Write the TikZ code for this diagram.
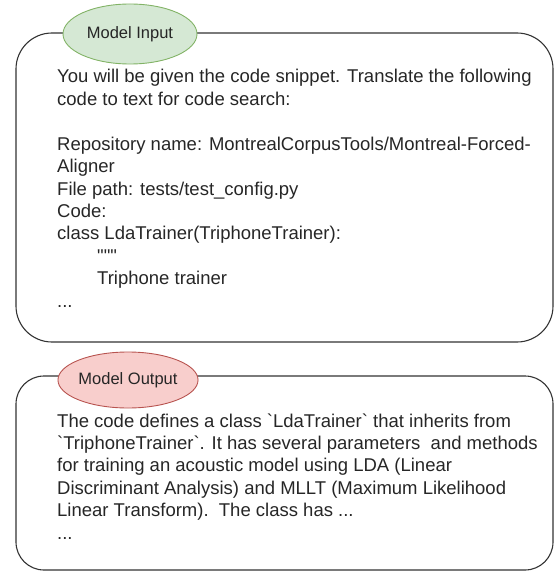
\documentclass[tikz,border=0pt]{standalone}
\usepackage{fontspec}
\setmainfont{Liberation Sans}[Ligatures=TeXOff]
\usetikzlibrary{shapes.geometric}
\definecolor{txt}{HTML}{262626}
\definecolor{edge}{HTML}{333333}
\definecolor{gfill}{HTML}{D5E8D4}
\definecolor{gline}{HTML}{82B366}
\definecolor{rfill}{HTML}{F8CECC}
\definecolor{rline}{HTML}{B85450}
\tikzset{
  panel/.style={draw=edge, line width=1.1pt},
  tag/.style={ellipse, line width=0.9pt, inner sep=0pt, minimum width=134pt, minimum height=60pt, text=txt, font=\fontsize{16.5}{19}\selectfont},
  ln/.style={anchor=base west, inner sep=0pt, text=txt, font=\fontsize{18.5}{22.4}\selectfont},
}
\begin{document}
\begin{tikzpicture}[x=1pt,y=-1pt]
\useasboundingbox (0,0) rectangle (554,572);
% panels
\draw[panel, rounded corners=36pt] (16,33) rectangle (553,342);
\draw[panel, rounded corners=28pt] (16,376) rectangle (553,570);
% tags
\node[tag, draw=gline, fill=gfill] (tin) at (130,34) {Model Input};
\node[tag, draw=rline, fill=rfill, minimum width=130pt, minimum height=56pt] (tout) at (128,380) {Model Output};
% input text
\node[ln] (i1) at (57,83) {You will be given the code snippet. Translate the following};
\node[ln] (i2) at (57,105.4) {code to text for code search:};
\node[ln] (i4) at (57,150.2) {Repository name: MontrealCorpusTools/Montreal-Forced-};
\node[ln] (i5) at (57,172.6) {Aligner};
\node[ln] (i6) at (57,195) {File path: tests/test\_config.py};
\node[ln] (i7) at (57,217.4) {Code:};
\node[ln] (i8) at (57,239.8) {class LdaTrainer(TriphoneTrainer):};
\node[ln] (i9) at (97,262.2) {"""};
\node[ln] (i10) at (97,284.6) {Triphone trainer};
\node[ln] (i11) at (57,307) {...};
% output text
\node[ln] (o1) at (57,427) {The code defines a class `LdaTrainer` that inherits from};
\node[ln] (o2) at (57,449.4) {`TriphoneTrainer`. It has several parameters\ \ and methods};
\node[ln] (o3) at (57,471.8) {for training an acoustic model using LDA (Linear};
\node[ln] (o4) at (57,494.2) {Discriminant Analysis) and MLLT (Maximum Likelihood};
\node[ln] (o5) at (57,516.6) {Linear Transform).\ \ The class has ...};
\node[ln] (o6) at (57,539) {...};
\end{tikzpicture}
\end{document}
